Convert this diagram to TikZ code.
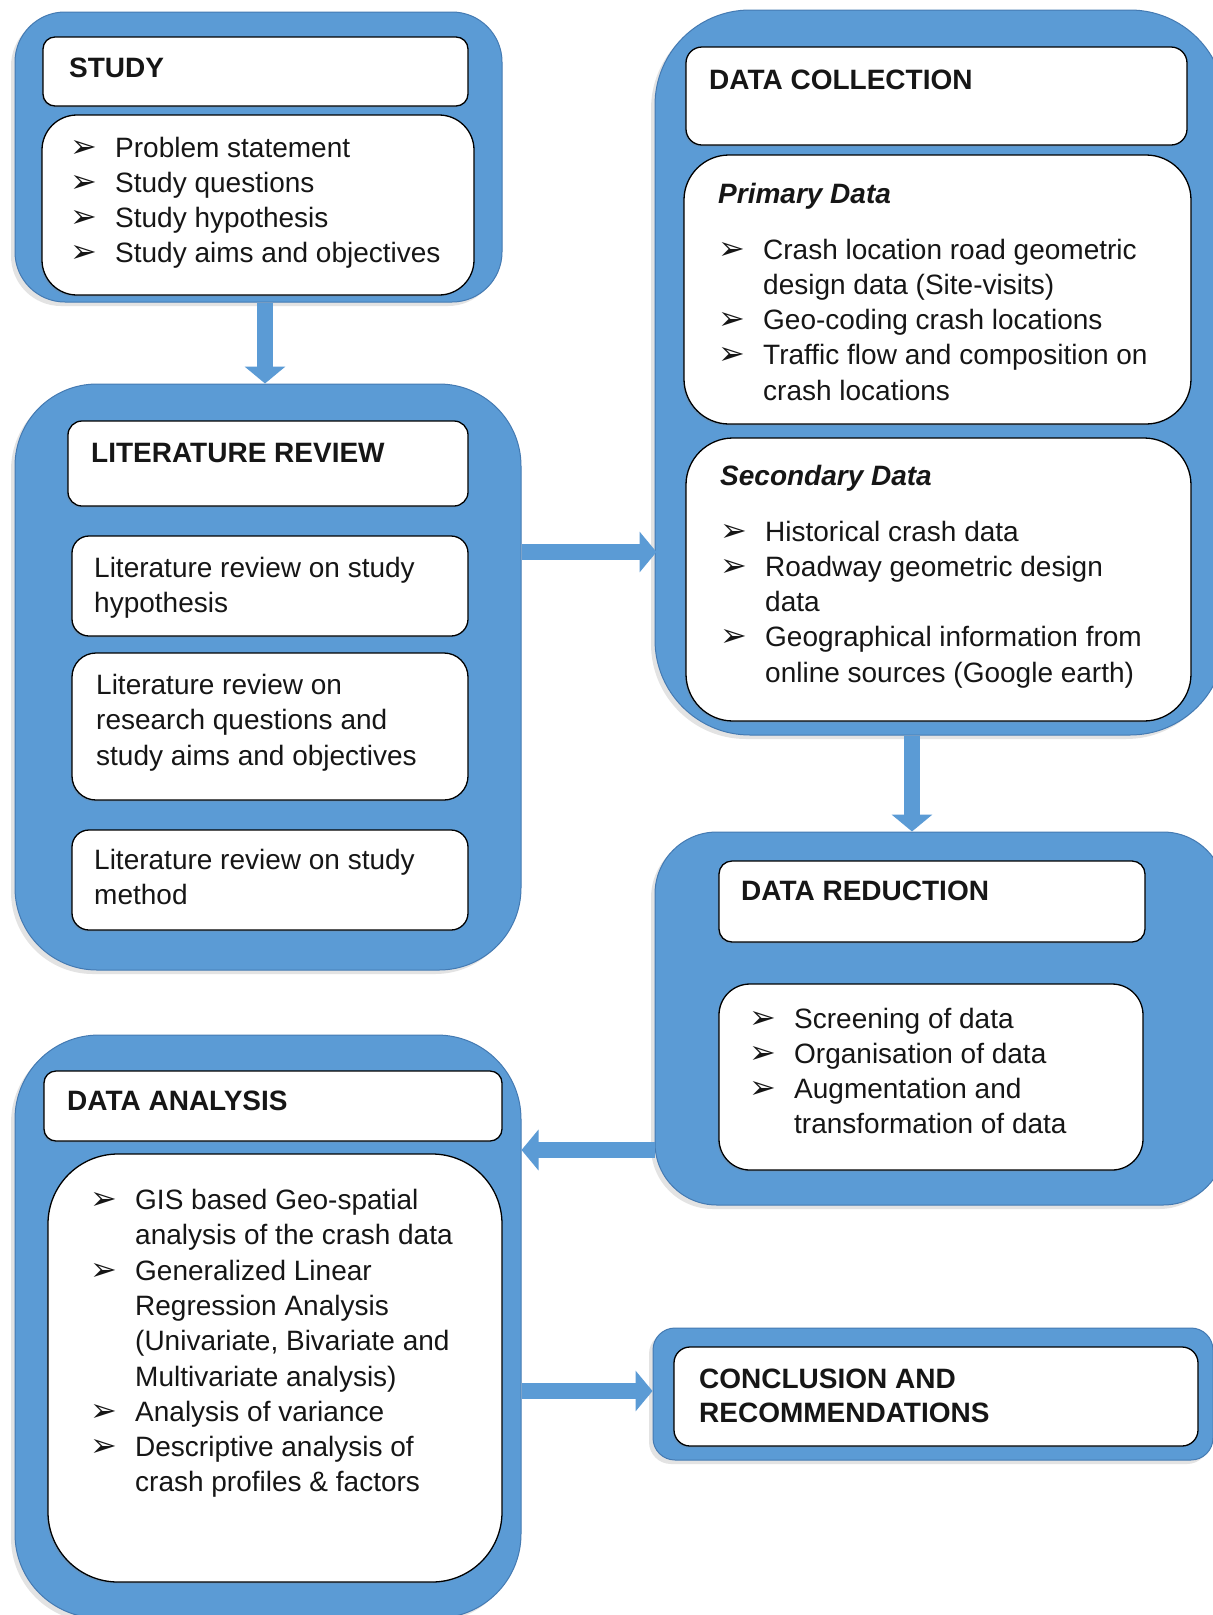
\documentclass[tikz,border=0pt]{standalone}
\usepackage{fontspec}
\setmainfont{Liberation Sans}
\newfontfamily\dejavu{DejaVu Sans}
\usetikzlibrary{arrows.meta,shadows}
\definecolor{frameblue}{RGB}{91,155,213}
\definecolor{frameedge}{RGB}{68,122,178}
\definecolor{txt}{RGB}{22,22,22}
\newcommand\bul{{\dejavu\fontsize{32}{32}\selectfont ➢}}
\newcommand\bitem[1]{\par\noindent\hangindent=45pt\hangafter=1\makebox[45pt][l]{\bul}#1}
\newcommand\txtbox[1]{\begin{minipage}[t]{480pt}#1\end{minipage}}
\tikzset{
  outer/.style={draw=frameedge, line width=1pt, fill=frameblue, inner sep=0pt,
    drop shadow={shadow xshift=-4pt, shadow yshift=-4pt, opacity=0.22}},
  wbox/.style={draw=black, line width=1.3pt, fill=white, inner sep=0pt,
    drop shadow={shadow xshift=-1.5pt, shadow yshift=-1.5pt, opacity=0.25}},
  headtxt/.style={anchor=base west, inner sep=0pt, text=txt,
    font=\bfseries\fontsize{28}{34.5}\selectfont},
  bodytxt/.style={anchor=base west, inner sep=0pt, text=txt,
    font=\fontsize{28}{35.3}\selectfont},
  barrow/.style={line width=16pt, draw=frameblue,
    -{Triangle[width=40pt,length=17pt]}},
}
\begin{document}
\begin{tikzpicture}[x=1pt,y=-1pt]
\useasboundingbox (0,0) rectangle (1213,1615);
\fill[white] (0,0) rectangle (1213,1615);
\clip (0,0) rectangle (1213,1615);

% ---------------- STUDY ----------------
\node[outer, rounded corners=50pt, minimum width=487pt, minimum height=290pt] (study) at (258.5,157) {};
\node[wbox, rounded corners=12pt, minimum width=425pt, minimum height=69pt] (studyh) at (255.5,71.5) {};
\node[wbox, rounded corners=35pt, minimum width=432pt, minimum height=180pt] (studyl) at (258,205) {};
\node[headtxt] (studyt) at (69,77) {STUDY};
\node[bodytxt] (studyb) at (70,157) {\txtbox{%
  \bitem{Problem statement}
  \bitem{Study questions}
  \bitem{Study hypothesis}
  \bitem{Study aims and objectives}}};

% ---------------- LITERATURE REVIEW ----------------
\node[outer, rounded corners=82pt, minimum width=506pt, minimum height=586pt] (lit) at (268,677) {};
\node[wbox, rounded corners=14pt, minimum width=400pt, minimum height=85pt] (lith) at (268,463.5) {};
\node[wbox, rounded corners=17pt, minimum width=396pt, minimum height=100pt] (lit1) at (270,586) {};
\node[wbox, rounded corners=24pt, minimum width=396pt, minimum height=147pt] (lit2) at (270,726.5) {};
\node[wbox, rounded corners=17pt, minimum width=396pt, minimum height=100pt] (lit3) at (270,880) {};
\node[headtxt] (litt) at (91,462) {LITERATURE REVIEW};
\node[bodytxt] (lit1t) at (94,577) {\txtbox{Literature review on study\\hypothesis}};
\node[bodytxt] (lit2t) at (96,694.5) {\txtbox{Literature review on\\research questions and\\study aims and objectives}};
\node[bodytxt] (lit3t) at (94,869.5) {\txtbox{Literature review on study\\method}};

% ---------------- DATA COLLECTION ----------------
\node[outer, rounded corners=95pt, minimum width=570pt, minimum height=725pt] (dc) at (940,372.5) {};
\node[wbox, rounded corners=16pt, minimum width=501pt, minimum height=98pt] (dch) at (936.5,96) {};
\node[wbox, rounded corners=45pt, minimum width=507pt, minimum height=269pt] (prim) at (937.5,289.5) {};
\node[wbox, rounded corners=47pt, minimum width=505pt, minimum height=283pt] (sec) at (938.5,579.5) {};
\node[headtxt] (dct) at (709,89) {DATA COLLECTION};
\node[headtxt, font=\bfseries\itshape\fontsize{28}{34.5}\selectfont] (primt) at (718,203) {Primary Data};
\node[bodytxt] (primb) at (718,259) {\txtbox{%
  \bitem{Crash location road geometric\\design data (Site-visits)}
  \bitem{Geo-coding crash locations}
  \bitem{Traffic flow and composition on\\crash locations}}};
\node[headtxt, font=\bfseries\itshape\fontsize{28}{34.5}\selectfont] (sect) at (720,485) {Secondary Data};
\node[bodytxt] (secb) at (720,541) {\txtbox{%
  \bitem{Historical crash data}
  \bitem{Roadway geometric design\\data}
  \bitem{Geographical information from\\online sources (Google earth)}}};

% ---------------- DATA REDUCTION ----------------
\node[outer, rounded corners=62pt, minimum width=570pt, minimum height=373pt] (dr) at (940,1018.5) {};
\node[wbox, rounded corners=13pt, minimum width=426pt, minimum height=81pt] (drh) at (932,901.5) {};
\node[wbox, rounded corners=31pt, minimum width=424pt, minimum height=186pt] (drl) at (931,1077) {};
\node[headtxt] (drt) at (741,900) {DATA REDUCTION};
\node[bodytxt] (drb) at (749,1028) {\txtbox{%
  \bitem{Screening of data}
  \bitem{Organisation of data}
  \bitem{Augmentation and\\transformation of data}}};

% ---------------- DATA ANALYSIS ----------------
\node[outer, rounded corners=84pt, minimum width=506pt, minimum height=583pt] (da) at (268,1326.5) {};
\node[wbox, rounded corners=12pt, minimum width=458pt, minimum height=70pt] (dah) at (273,1106) {};
\node[wbox, rounded corners=70pt, minimum width=454pt, minimum height=428pt] (dal) at (275,1368) {};
\node[headtxt] (dat) at (67,1110) {DATA ANALYSIS};
\node[bodytxt] (dab) at (90,1209.5) {\txtbox{%
  \bitem{GIS based Geo-spatial\\analysis of the crash data}
  \bitem{Generalized Linear\\Regression Analysis\\(Univariate, Bivariate and\\Multivariate analysis)}
  \bitem{Analysis of variance}
  \bitem{Descriptive analysis of\\crash profiles \& factors}}};

% ---------------- CONCLUSION ----------------
\node[outer, rounded corners=22pt, minimum width=560pt, minimum height=132pt] (con) at (933,1394) {};
\node[wbox, rounded corners=16pt, minimum width=524pt, minimum height=99pt] (conh) at (936,1396.5) {};
\node[headtxt, font=\bfseries\fontsize{28}{34.5}\selectfont] (cont) at (699,1388) {\txtbox{CONCLUSION AND\\RECOMMENDATIONS}};

% ---------------- ARROWS ----------------
\coordinate (ax1) at (265,0);
\coordinate (ay2) at (0,552);
\coordinate (ax3) at (912,0);
\coordinate (ay4) at (0,1150);
\coordinate (ay5) at (0,1391);
\draw[barrow] (study.south -| ax1) -- (lit.north -| ax1);
\draw[barrow] (lit.east |- ay2) -- ([xshift=2pt]dc.west |- ay2);
\draw[barrow] (dc.south -| ax3) -- (dr.north -| ax3);
\draw[barrow] (dr.west |- ay4) -- (da.east |- ay4);
\draw[barrow] (da.east |- ay5) -- (con.west |- ay5);
\end{tikzpicture}
\end{document}
